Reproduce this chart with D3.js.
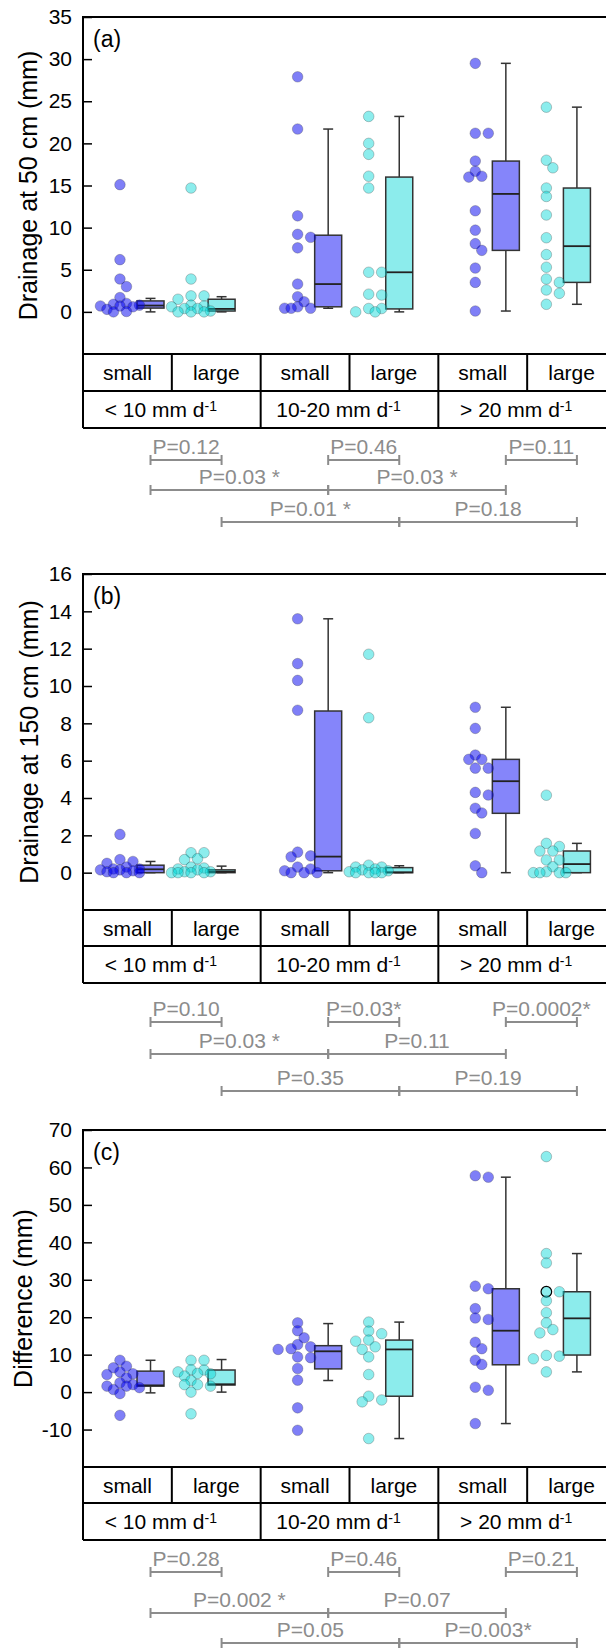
<!DOCTYPE html>
<html>
<head>
<meta charset="utf-8">
<script src="https://cdn.jsdelivr.net/npm/d3@7"></script>
<style>
  body { margin: 0; background: #fff; }
  svg { display: block; }
  text { font-family: Arial, "Liberation Sans", Helvetica, sans-serif; }
</style>
</head>
<body>
<svg id="chart" width="606" height="1651"></svg>
<script>
// ---- categories ----
const categories = ["small", "large", "small", "large", "small", "large"];
const catPositions = [1, 2, 3.5, 4.5, 6, 7];
const groups = ["< 10 mm d", "10-20 mm d", "> 20 mm d"];
const groupUnitSup = "-1";

// ---- (a) drainage at 50 cm (mm) ----
const drain50 = [
  [15.1, 6.2, 3.9, 3.0, 1.7, 1.0, 0.9, 0.8, 0.7, 0.7, 0.6, 0.3, 0.05, 0.0],
  [14.7, 3.9, 1.9, 1.9, 1.5, 0.8, 0.7, 0.6, 0.4, 0.4, 0.1, 0.0, 0.0, 0.0],
  [27.9, 21.7, 11.4, 9.2, 8.85, 7.6, 3.3, 1.8, 1.2, 0.6, 0.43, 0.43, 0.43],
  [23.2, 20.0, 18.7, 16.1, 14.7, 4.7, 4.7, 2.1, 2.0, 0.4, 0.4, 0.0, 0.0],
  [29.5, 21.2, 21.2, 17.9, 16.7, 16.1, 16.0, 12.0, 9.7, 8.1, 7.3, 5.2, 3.5, 0.1],
  [24.3, 18.0, 17.1, 14.7, 13.7, 11.5, 8.8, 6.8, 5.3, 3.9, 3.5, 2.6, 2.2, 0.9]
];
// whisker low, q1, median, q3, whisker high
const drain50Box = [
  [0.0, 0.45, 0.75, 1.3, 1.6],
  [0.0, 0.1, 0.35, 1.5, 1.8],
  [0.43, 0.6, 3.3, 9.1, 21.7],
  [0.0, 0.35, 4.7, 16.0, 23.2],
  [0.1, 7.3, 14.0, 17.9, 29.5],
  [0.9, 3.5, 7.8, 14.7, 24.3]
];
const drain50Ticks = [0, 5, 10, 15, 20, 25, 30, 35];
const drain50P = [
  ["P=0.12", "P=0.46", "P=0.11"],
  ["P=0.03 *", "P=0.03 *"],
  ["P=0.01 *", "P=0.18"]
];

// ---- (b) drainage at 150 cm (mm) ----
const drain150 = [
  [2.05, 0.7, 0.6, 0.5, 0.3, 0.2, 0.2, 0.15, 0.15, 0.1, 0.05, 0.0, 0.0, 0.0],
  [1.07, 1.07, 0.75, 0.7, 0.3, 0.25, 0.2, 0.15, 0.05, 0.05, 0.0, 0.0, 0.0, 0.0],
  [13.6, 11.2, 10.3, 8.7, 1.1, 0.9, 0.85, 0.3, 0.2, 0.1, 0.0, 0.0, 0.0],
  [11.7, 8.3, 0.4, 0.3, 0.3, 0.2, 0.15, 0.1, 0.05, 0.0, 0.0, 0.0, 0.0],
  [8.86, 7.73, 6.3, 6.07, 6.07, 5.6, 5.6, 4.3, 4.16, 3.45, 3.2, 2.1, 0.37, 0.0],
  [4.15, 1.57, 1.4, 1.16, 1.16, 0.68, 0.68, 0.32, 0.05, 0.0, 0.0, 0.0, 0.0]
];
const drain150Box = [
  [0.0, 0.0, 0.18, 0.4, 0.6],
  [0.0, 0.0, 0.05, 0.15, 0.35],
  [0.0, 0.1, 0.86, 8.66, 13.6],
  [0.0, 0.0, 0.02, 0.27, 0.37],
  [0.0, 3.18, 4.9, 6.07, 8.86],
  [0.0, 0.0, 0.46, 1.16, 1.57]
];
const drain150Ticks = [0, 2, 4, 6, 8, 10, 12, 14, 16];
const drain150P = [
  ["P=0.10", "P=0.03*", "P=0.0002*"],
  ["P=0.03 *", "P=0.11"],
  ["P=0.35", "P=0.19"]
];

// ---- (c) difference (mm) ----
const diff = [
  [8.5, 6.9, 6.5, 5.4, 4.9, 4.7, 3.8, 2.5, 2.0, 1.6, 1.6, 1.2, 0.7, -0.4, -6.2],
  [8.5, 8.5, 6.0, 5.9, 5.4, 5.0, 4.9, 4.3, 3.1, 2.0, 2.0, 1.6, 0.0, -5.8],
  [18.5, 16.4, 14.5, 12.7, 12.1, 11.6, 11.4, 9.4, 9.2, 6.3, 3.2, -4.2, -10.2],
  [18.7, 16.3, 15.6, 13.9, 13.6, 12.1, 11.4, 9.4, 4.7, -1.1, -2.1, -2.6, -12.4],
  [57.8, 57.4, 28.3, 27.6, 22.3, 19.8, 19.4, 13.3, 11.6, 8.5, 7.4, 1.3, 0.5, -8.4],
  [62.9, 37.0, 34.5, 26.8, 26.8, 24.4, 21.2, 18.5, 16.7, 15.8, 9.8, 9.6, 8.9, 5.4]
];
const diffBox = [
  [-0.2, 1.6, 1.8, 5.6, 8.5],
  [0.0, 1.9, 2.1, 5.9, 8.7],
  [3.1, 6.2, 10.9, 12.4, 18.3],
  [-12.4, -1.1, 11.4, 13.9, 18.7],
  [-8.4, 7.3, 16.4, 27.6, 57.4],
  [5.4, 9.9, 19.7, 26.8, 37.0]
];
const diffTicks = [-10, 0, 10, 20, 30, 40, 50, 60, 70];
const diffP = [
  ["P=0.28", "P=0.46", "P=0.21"],
  ["P=0.002 *", "P=0.07"],
  ["P=0.05", "P=0.003*"]
];
// one point in (c) drawn with a dark outline: category index, value
const diffOutlined = [5, 26.8];

// comparisons: within each rain class; small vs small; large vs large
const bracketPairs = [
  [[0, 1], [2, 3], [4, 5]],
  [[0, 2], [2, 4]],
  [[1, 3], [3, 5]]
];

// ---- drawing ----
const svg = d3.select("#chart");
const W = 606;
const left = 83, rightEdge = 616;

const x = d3.scaleLinear().domain([0.48, 7.98]).range([left, rightEdge]);
const colBand = d3.scaleBand().domain(d3.range(categories.length)).range([left, rightEdge]);
const groupBand = d3.scaleBand().domain(d3.range(groups.length)).range([left, rightEdge]);

const BOX_SHIFT = 0.43;     // box sits to the right of its dots
const BOX_W = 0.38;         // box width in x units
const CAP_W = 0.14;         // whisker cap width in x units
const R = 5.3;              // dot radius

const fillDot = ["#0000f0", "#00d8d8"];
const fillBox = ["#8585fa", "#8cecec"];
const grey = "#8c8c8c";

const panels = [
  { label: "(a)", title: "Drainage at 50 cm (mm)", data: drain50, box: drain50Box, ticks: drain50Ticks, p: drain50P,
    domain: [-5, 35], top: 17, bottom: 354, rows: [391, 428], brackets: [460, 490, 522], titleX: 37 },
  { label: "(b)", title: "Drainage at 150 cm (mm)", data: drain150, box: drain150Box, ticks: drain150Ticks, p: drain150P,
    domain: [-2, 16], top: 574, bottom: 910, rows: [946, 983], brackets: [1022, 1054, 1091], titleX: 38 },
  { label: "(c)", title: "Difference (mm)", data: diff, box: diffBox, ticks: diffTicks, p: diffP,
    domain: [-20, 70], top: 1130, bottom: 1467, rows: [1503, 1540], brackets: [1572, 1613, 1643], titleX: 32,
    outlined: diffOutlined }
];

// simple deterministic swarm: lay dots from top value down, nudging sideways when crowded
function swarm(values, y) {
  const step = 6.5;
  const order = values.map((v, i) => i).sort((a, b) => values[b] - values[a]);
  const placed = [];
  const offsets = new Array(values.length).fill(0);
  const cands = [0, 1, -1, 2, -2, 3, -3].map(k => k * step);
  order.forEach(i => {
    const yy = y(values[i]);
    let best = 0, bestD = -1, chosen = null;
    for (const c of cands) {
      let md = Infinity;
      for (const p of placed) md = Math.min(md, Math.hypot(p[0] - c, p[1] - yy));
      if (md >= R * 1.45) { chosen = c; break; }
      if (md > bestD) { bestD = md; best = c; }
    }
    const o = chosen === null ? best : chosen;
    offsets[i] = o;
    placed.push([o, yy]);
  });
  return offsets;
}

panels.forEach(P => {
  const g = svg.append("g");
  const y = d3.scaleLinear().domain(P.domain).range([P.bottom, P.top]);

  // axis with inward ticks; plain hyphen for negatives
  const axis = d3.axisLeft(y).tickValues(P.ticks).tickSizeInner(-9).tickSizeOuter(0).tickPadding(11)
    .tickFormat(d => String(d));
  const ax = g.append("g").attr("transform", `translate(${left},0)`).call(axis);
  ax.select(".domain").remove();
  ax.selectAll(".tick line").attr("stroke", "#000").attr("stroke-width", 1.5);
  ax.selectAll(".tick text").attr("font-size", 21).attr("fill", "#000")
    .attr("font-family", "Arial, 'Liberation Sans', sans-serif");

  // y title
  g.append("text")
    .attr("transform", `translate(${P.titleX},${(P.top + P.bottom) / 2}) rotate(-90)`)
    .attr("text-anchor", "middle").attr("font-size", 25).text(P.title);

  // panel label
  g.append("text").attr("x", 93).attr("y", P.top + 30).attr("font-size", 23).text(P.label);

  // boxes
  P.box.forEach((b, i) => {
    const cx = x(catPositions[i] + BOX_SHIFT);
    const bw = x(BOX_W) - x(0), cw = x(CAP_W) - x(0);
    const [lo, q1, med, q3, hi] = b;
    const bg = g.append("g");
    bg.append("line").attr("x1", cx).attr("x2", cx).attr("y1", y(hi)).attr("y2", y(q3))
      .attr("stroke", "#333").attr("stroke-width", 1.5);
    bg.append("line").attr("x1", cx).attr("x2", cx).attr("y1", y(q1)).attr("y2", y(lo))
      .attr("stroke", "#333").attr("stroke-width", 1.5);
    [hi, lo].forEach(v => bg.append("line").attr("x1", cx - cw / 2).attr("x2", cx + cw / 2)
      .attr("y1", y(v)).attr("y2", y(v)).attr("stroke", "#333").attr("stroke-width", 1.5));
    bg.append("rect").attr("x", cx - bw / 2).attr("width", bw)
      .attr("y", y(q3)).attr("height", Math.max(y(q1) - y(q3), 0.5))
      .attr("fill", fillBox[i % 2]).attr("stroke", "#333").attr("stroke-width", 1.5);
    bg.append("line").attr("x1", cx - bw / 2).attr("x2", cx + bw / 2).attr("y1", y(med)).attr("y2", y(med))
      .attr("stroke", "#222").attr("stroke-width", 1.8);
  });

  // dots
  P.data.forEach((vals, i) => {
    const offs = swarm(vals, y);
    const cx = x(catPositions[i]);
    let outlinedDone = false;
    vals.forEach((v, j) => {
      const isOut = P.outlined && P.outlined[0] === i && P.outlined[1] === v && !outlinedDone;
      if (isOut) outlinedDone = true;
      g.append("circle").attr("cx", cx + offs[j]).attr("cy", y(v)).attr("r", R)
        .attr("fill", fillDot[i % 2]).attr("fill-opacity", i % 2 ? 0.45 : 0.5)
        .attr("stroke", isOut ? "#000" : "#333").attr("stroke-opacity", isOut ? 1 : 0.35)
        .attr("stroke-width", isOut ? 1.2 : 0.8);
    });
  });

  // frame (top and left) and table
  const frame = g.append("g").attr("stroke", "#000").attr("stroke-width", 2).attr("fill", "none");
  frame.append("path").attr("d", `M${W + 20},${P.top}H${left}V${P.rows[1]}`);
  [P.bottom, P.rows[0], P.rows[1]].forEach(yy =>
    frame.append("line").attr("x1", left).attr("x2", W + 20).attr("y1", yy).attr("y2", yy));
  d3.range(1, categories.length).forEach(k => {
    const xx = colBand(k);
    const spansBoth = k % 2 === 0;
    frame.append("line").attr("x1", xx).attr("x2", xx)
      .attr("y1", P.bottom).attr("y2", spansBoth ? P.rows[1] : P.rows[0]);
  });

  // table text
  categories.forEach((c, k) => {
    g.append("text").attr("x", colBand(k) + colBand.bandwidth() / 2)
      .attr("y", (P.bottom + P.rows[0]) / 2).attr("dy", "0.36em")
      .attr("text-anchor", "middle").attr("font-size", 21).text(c);
  });
  groups.forEach((gr, k) => {
    const t = g.append("text").attr("x", groupBand(k) + groupBand.bandwidth() / 2 - 11)
      .attr("y", (P.rows[0] + P.rows[1]) / 2).attr("dy", "0.36em")
      .attr("text-anchor", "middle").attr("font-size", 21);
    t.append("tspan").text(gr);
    t.append("tspan").attr("dy", "-0.45em").attr("font-size", 14).text(groupUnitSup);
  });

  // significance brackets
  bracketPairs.forEach((row, r) => {
    const ly = P.brackets[r];
    row.forEach((pair, k) => {
      const x1 = x(catPositions[pair[0]] + BOX_SHIFT);
      const x2 = x(catPositions[pair[1]] + BOX_SHIFT);
      const bg = g.append("g").attr("stroke", grey).attr("stroke-width", 2);
      bg.append("line").attr("x1", x1).attr("x2", x2).attr("y1", ly).attr("y2", ly);
      [x1, x2].forEach(xx => bg.append("line").attr("x1", xx).attr("x2", xx).attr("y1", ly - 5).attr("y2", ly + 5));
      g.append("text").attr("x", (x1 + x2) / 2).attr("y", ly - 6)
        .attr("text-anchor", "middle").attr("font-size", 21).attr("fill", grey).text(P.p[r][k]);
    });
  });
});
</script>
</body>
</html>
